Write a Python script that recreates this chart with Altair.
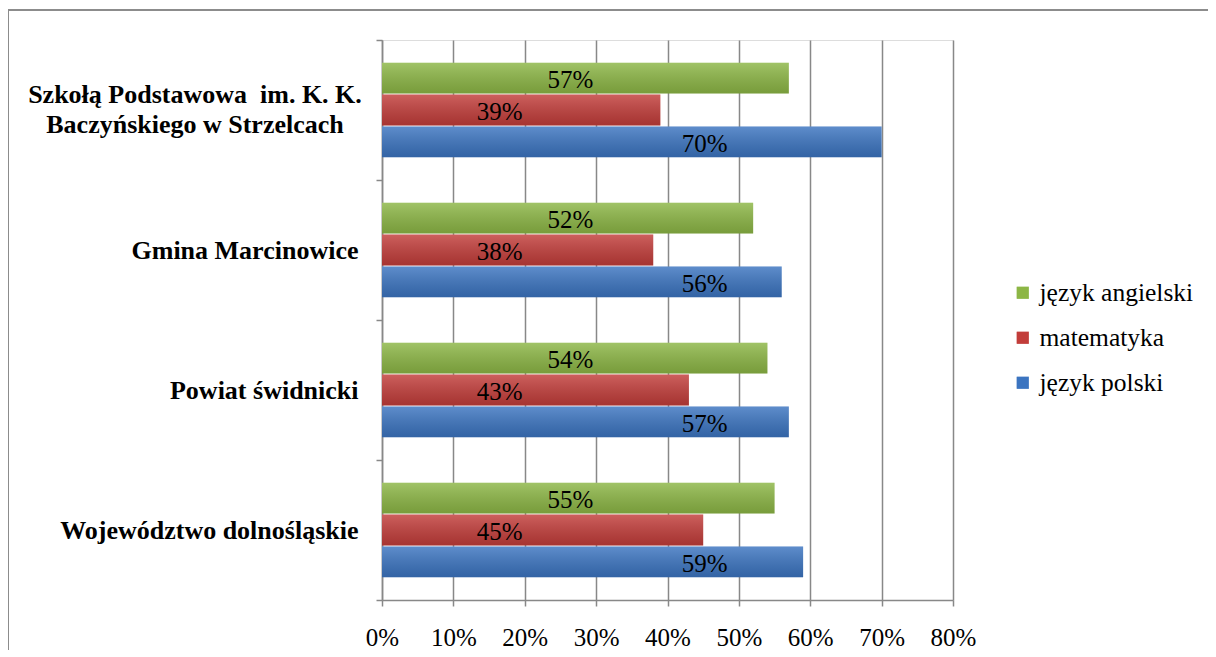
import altair as alt
import pandas as pd

categories = [
    "Szkołą Podstawowa\u00a0 im. K. K.\nBaczyńskiego w Strzelcach",
    "Gmina Marcinowice",
    "Powiat świdnicki",
    "Województwo dolnośląskie",
]
series = ["język angielski", "matematyka", "język polski"]
colors = ["#8CB645", "#C23D3A", "#3B74C0"]
angielski = [57, 52, 54, 55]
matematyka = [39, 38, 43, 45]
polski = [70, 56, 57, 59]
# where each series' value labels sit along the axis (as in the original chart)
label_anchor = [26.4, 16.5, 45.2]
x_ticks = [0, 10, 20, 30, 40, 50, 60, 70, 80]

rows = []
for s, vals, anc in zip(series, [angielski, matematyka, polski], label_anchor):
    for c, v in zip(categories, vals):
        rows.append({"kategoria": c, "przedmiot": s, "wartosc": v, "kotwica": anc})
df = pd.DataFrame(rows)

FONT = "Liberation Serif"
W, H = 571, 560
PAD_L, PAD_T = 374, 32

y_scale = alt.Scale(paddingInner=0, paddingOuter=0)
y_enc = alt.Y("kategoria:N", sort=categories, title=None, scale=y_scale,
              axis=alt.Axis(labelExpr="indexof(datum.label, '\\n') >= 0 ? '' : datum.label",
                            labelFont=FONT, labelFontSize=26, labelFontWeight="bold",
                            labelColor="black", labelPadding=18, labelLimit=0,
                            tickBand="extent", tickSize=6, tickColor="#888888",
                            tickWidth=1.5, domainColor="#888888", domainWidth=1.5,
                            grid=False))
yoff_enc = alt.YOffset("przedmiot:N", sort=series,
                       scale=alt.Scale(paddingInner=0.03, paddingOuter=0.71))
x_enc = alt.X("wartosc:Q", title=None,
              scale=alt.Scale(domain=[0, 80], nice=False),
              axis=alt.Axis(values=x_ticks, labelExpr="datum.value + '%'",
                            labelFont=FONT, labelFontSize=25, labelColor="black",
                            labelPadding=19, labelFlush=False, labelOverlap=False,
                            tickSize=6, tickColor="#888888",
                            tickWidth=1.5, domainColor="#888888", domainWidth=1.5,
                            grid=True, gridColor="#888888", gridWidth=1.5))

base = alt.Chart(df).encode(y=y_enc, yOffset=yoff_enc)

bars = base.mark_bar().encode(
    x=x_enc,
    color=alt.Color("przedmiot:N", sort=series,
                    scale=alt.Scale(domain=series, range=colors),
                    legend=alt.Legend(title=None, orient="none", legendX=628, legendY=240,
                                      labelFont=FONT, labelFontSize=25.5, labelColor="black",
                                      symbolType="square", symbolSize=150,
                                      symbolStrokeWidth=0, rowPadding=18, labelOffset=4)),
)

shade = base.mark_bar(
    fill=alt.Gradient(gradient="linear", x1=0, x2=0, y1=0, y2=1,
                      stops=[alt.GradientStop(color="rgba(255,255,255,0.18)", offset=0),
                             alt.GradientStop(color="rgba(0,0,0,0.14)", offset=1)])
).encode(x="wartosc:Q")

labels = base.transform_calculate(
    txt="datum.wartosc + '%'"
).mark_text(font=FONT, fontSize=25, color="black", baseline="middle", align="center",
            dy=2).encode(x="kotwica:Q", text="txt:N")

# two-line category label (centred lines, like the original)
cat_df = pd.DataFrame({"kategoria": categories[:1]})
cat_label = alt.Chart(cat_df).mark_text(
    font=FONT, fontSize=26, fontWeight="bold", color="black", align="center",
    baseline="top", lineBreak="\n", lineHeight=30, dy=-28
).encode(y=alt.Y("kategoria:N", sort=categories, scale=y_scale), x=alt.value(-187),
         text="kategoria:N")

frame_top = alt.Chart(df).mark_rule(color="#8c8c8c", strokeWidth=1.5).encode(
    x=alt.value(-PAD_L), x2=alt.value(W + 300), y=alt.value(-30))
frame_left = alt.Chart(df).mark_rule(color="#8c8c8c", strokeWidth=1.5).encode(
    x=alt.value(-PAD_L), y=alt.value(-30), y2=alt.value(H + 100))

chart = alt.layer(bars, shade, labels, cat_label, frame_top, frame_left).properties(
    width=W, height=H,
    autosize=alt.AutoSizeParams(type="none"),
    padding={"left": PAD_L, "top": PAD_T, "right": 255, "bottom": 50},
).configure_view(stroke=None).configure(background="white")

chart.save("out.html", embed_options={"renderer": "svg", "actions": False})
